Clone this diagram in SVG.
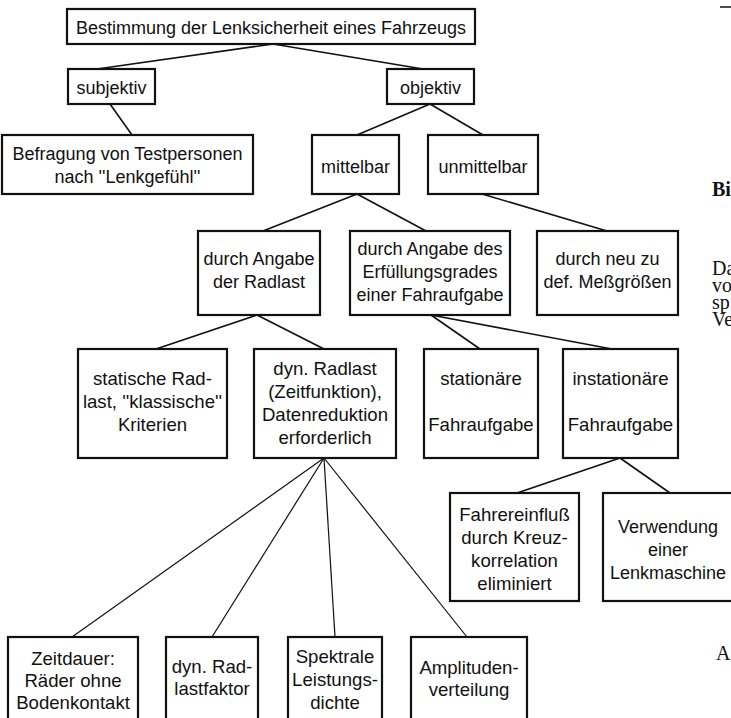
<svg xmlns="http://www.w3.org/2000/svg" width="731" height="718" viewBox="0 0 731 718">
<style>
.box rect{fill:#fff;stroke:#111;stroke-width:2.2}
.box text{font-family:"Liberation Sans",Arial,sans-serif;font-size:18px;fill:#111;text-anchor:middle}
.box.lg text{font-size:18.6px}
.conn line{stroke:#111;stroke-width:1.6;fill:none}
.conn .thin{stroke-width:1.2}
.page{font-family:"Liberation Serif","Times New Roman",serif;font-size:20px;fill:#111}
</style>
<rect width="731" height="718" fill="#fff"/>
<g id="connectors" class="conn">
<line x1="273" y1="44" x2="97" y2="69"/>
<line x1="273" y1="44" x2="423" y2="69"/>
<line x1="110" y1="104" x2="132" y2="135"/>
<line x1="430" y1="104" x2="357" y2="135"/>
<line x1="430" y1="104" x2="483" y2="135"/>
<line x1="357" y1="194" x2="263" y2="231"/>
<line x1="357" y1="194" x2="426" y2="231"/>
<line x1="482" y1="194" x2="607" y2="231"/>
<line x1="257" y1="315" x2="156" y2="349"/>
<line x1="257" y1="315" x2="324" y2="349"/>
<line x1="431" y1="315" x2="480" y2="349"/>
<line x1="431" y1="315" x2="612" y2="349"/>
<line x1="620" y1="458" x2="517" y2="493"/>
<line x1="620" y1="458" x2="670" y2="493"/>
<line class="thin" x1="324" y1="458" x2="72" y2="637"/>
<line class="thin" x1="324" y1="458" x2="212" y2="637"/>
<line class="thin" x1="324" y1="458" x2="335" y2="637"/>
<line class="thin" x1="324" y1="458" x2="467" y2="637"/>
</g>
<g id="root" class="box"><rect x="67" y="9" width="408" height="35"/><text x="271" y="34">Bestimmung der Lenksicherheit eines Fahrzeugs</text></g>
<g id="subjektiv" class="box"><rect x="68" y="69" width="87" height="35"/><text x="111.5" y="94">subjektiv</text></g>
<g id="objektiv" class="box"><rect x="387" y="69" width="87" height="35"/><text x="430.5" y="94">objektiv</text></g>
<g id="befragung" class="box"><rect x="2" y="135" width="251" height="59"/><text x="127.5" y="160">Befragung von Testpersonen</text><text x="127.5" y="183">nach ''Lenkgefühl''</text></g>
<g id="mittelbar" class="box"><rect x="312" y="135" width="87" height="59"/><text x="355.5" y="173">mittelbar</text></g>
<g id="unmittelbar" class="box"><rect x="428" y="135" width="110" height="59"/><text x="483" y="173">unmittelbar</text></g>
<g id="radlast" class="box"><rect x="198" y="231" width="122" height="84"/><text x="259" y="265">durch Angabe</text><text x="259" y="288">der Radlast</text></g>
<g id="erfuellung" class="box"><rect x="350" y="231" width="160" height="84"/><text x="430" y="255">durch Angabe des</text><text x="430" y="278">Erfüllungsgrades</text><text x="430" y="301">einer Fahraufgabe</text></g>
<g id="neu" class="box"><rect x="537" y="231" width="141" height="84"/><text x="607.5" y="265">durch neu zu</text><text x="607.5" y="288">def. Meßgrößen</text></g>
<g id="statisch" class="box lg"><rect x="78" y="349" width="149" height="109"/><text x="152.5" y="385">statische Rad-</text><text x="152.5" y="408">last, ''klassische''</text><text x="152.5" y="431">Kriterien</text></g>
<g id="dynradlast" class="box lg"><rect x="254" y="349" width="142" height="109"/><text x="325" y="375">dyn. Radlast</text><text x="325" y="398">(Zeitfunktion),</text><text x="325" y="421">Datenreduktion</text><text x="325" y="444">erforderlich</text></g>
<g id="stationaer" class="box lg"><rect x="424" y="349" width="114" height="109"/><text x="481" y="385">stationäre</text><text x="481" y="431">Fahraufgabe</text></g>
<g id="instationaer" class="box lg"><rect x="563" y="349" width="115" height="109"/><text x="620.5" y="385">instationäre</text><text x="620.5" y="431">Fahraufgabe</text></g>
<g id="fahrereinfluss" class="box lg"><rect x="450" y="493" width="129" height="108"/><text x="514.5" y="521">Fahrereinfluß</text><text x="514.5" y="544">durch Kreuz-</text><text x="514.5" y="567">korrelation</text><text x="514.5" y="590">eliminiert</text></g>
<g id="verwendung" class="box"><rect x="603" y="493" width="135" height="108"/><text x="668" y="533">Verwendung</text><text x="668" y="556">einer</text><text x="668" y="579">Lenkmaschine</text></g>
<g id="zeitdauer" class="box lg"><rect x="8" y="637" width="130" height="90"/><text x="73" y="665">Zeitdauer:</text><text x="73" y="687">Räder ohne</text><text x="73" y="709">Bodenkontakt</text></g>
<g id="radlastfaktor" class="box lg"><rect x="166" y="637" width="92" height="90"/><text x="212" y="673">dyn. Rad-</text><text x="212" y="695">lastfaktor</text></g>
<g id="spektrale" class="box lg"><rect x="288" y="637" width="94" height="90"/><text x="335" y="663">Spektrale</text><text x="335" y="686">Leistungs-</text><text x="335" y="709">dichte</text></g>
<g id="amplituden" class="box lg"><rect x="411" y="637" width="116" height="90"/><text x="469" y="674">Amplituden-</text><text x="469" y="696">verteilung</text></g>
<line x1="720" y1="7" x2="731" y2="7" stroke="#111" stroke-width="1.5"/>
<text class="page" x="712" y="196" font-weight="bold">Bi</text>
<text class="page" x="712" y="275">Da</text>
<text class="page" x="712" y="292">vo</text>
<text class="page" x="712" y="309">sp</text>
<text class="page" x="712" y="326">Ve</text>
<text class="page" x="716" y="660">A</text>
</svg>
